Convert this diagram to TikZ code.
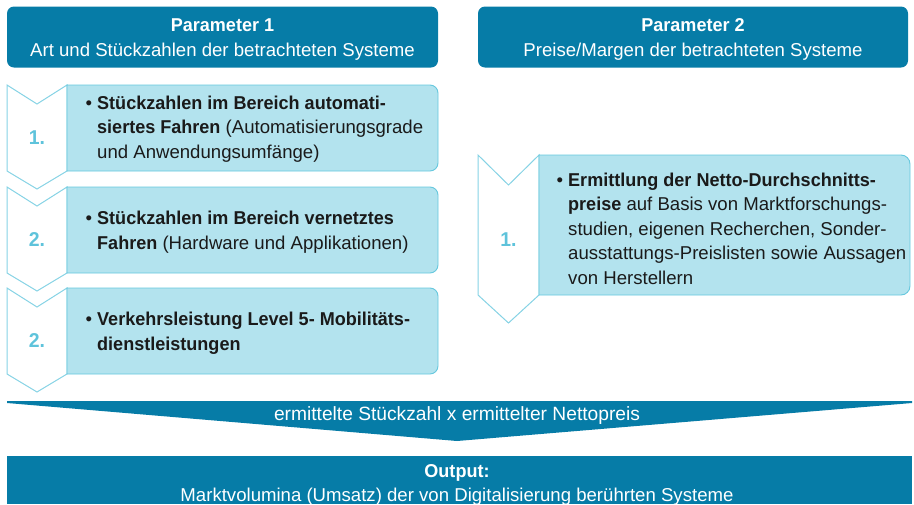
\documentclass[tikz,border=0pt]{standalone}
\usepackage{fontspec}
\setmainfont{Liberation Sans}[BoldFeatures={FakeStretch=0.97}]
\definecolor{dblue}{HTML}{067CA7}
\definecolor{lfill}{HTML}{B3E3EE}
\definecolor{lline}{HTML}{66C8DE}
\definecolor{chev}{HTML}{86D3E5}
\definecolor{numc}{HTML}{5EC3DB}
\definecolor{txt}{HTML}{1A1A1A}
\begin{document}
\begin{tikzpicture}[x=1pt,y=-1pt,
  every node/.style={font=\fontsize{18.6}{24.5}\selectfont, inner sep=0pt},
  hdr/.style={fill=dblue, rounded corners=7pt, minimum height=61pt},
  wtext/.style={text=white, align=center},
  chevron/.style={draw=chev, line width=1pt, fill=white, line join=miter},
  stepbox/.style={draw=lline, line width=0.9pt, fill=lfill},
  body/.style={anchor=west, align=left, text=txt},
  num/.style={text=numc, font=\fontsize{20}{24}\selectfont\bfseries},
  bigarrow/.style={fill=dblue},
  outbox/.style={fill=dblue}
]
\useasboundingbox (0,0) rectangle (914,504);

% headers
\node[hdr, minimum width=431pt] (h1) at (222.5,37) {};
\node[wtext] (h1t) at (222.5,39.5) {\textbf{Parameter 1}\\Art und Stückzahlen der betrachteten Systeme};
\node[hdr, minimum width=430pt] (h2) at (693,37) {};
\node[wtext] (h2t) at (693,39.5) {\textbf{Parameter 2}\\Preise/Margen der betrachteten Systeme};

% left steps
\foreach \t/\b/\n/\nm in {85/171/1./s1, 187/273/2./s2, 288/374/2./s3}{
  \draw[chevron] (7,\t) -- (37,\t+19) -- (67,\t) -- (67,\b) -- (37,\b+18) -- (7,\b) -- cycle;
  \draw[stepbox] (67,\t) -- (420,\t) [rounded corners=8pt] -- (438,\t) -- (438,\b) -- (420,\b) [sharp corners] -- (67,\b) -- cycle;
  \node[num] (n\nm) at (37,{(\t+\b)/2+10}) {\n};
}
\node[body] (t1) at (97,129) {\llap{\textbullet\ }\textbf{Stückzahlen im Bereich automati-}\\\textbf{siertes Fahren} (Automatisierungsgrade\\und Anwendungsumfänge)};
\node[body] (t2) at (97,232) {\llap{\textbullet\ }\textbf{Stückzahlen im Bereich vernetztes}\\\textbf{Fahren} (Hardware und Applikationen)};
\node[body] (t3) at (97,333) {\llap{\textbullet\ }\textbf{Verkehrsleistung Level 5- Mobilitäts-}\\\textbf{dienstleistungen}};

% right step
\draw[chevron] (478,155) -- (508.5,185) -- (539,155) -- (539,295) -- (508.5,323) -- (478,295) -- cycle;
\draw[stepbox] (539,155) -- (890,155) [rounded corners=9pt] -- (910,155) -- (910,295) -- (890,295) [sharp corners] -- (539,295) -- cycle;
\node[num] (nr1) at (508.5,240) {1.};
\node[body] (tr) at (568,228.5) {\llap{\textbullet\ }\textbf{Ermittlung der Netto-Durchschnitts-}\\\textbf{preise} auf Basis von Marktforschungs-\\studien, eigenen Recherchen, Sonder-\\ausstattungs-Preislisten sowie Aussagen\\von Herstellern};

% big arrow
\fill[bigarrow] (7,401) -- (912,401) -- (912,403) -- (457,441) -- (7,403) -- cycle;
\node[text=white, font=\fontsize{19.2}{24}\selectfont] (calc) at (457,416) {ermittelte Stückzahl x ermittelter Nettopreis};

% output
\fill[outbox] (7,456) rectangle (912,504);
\node[wtext] (out) at (457,485) {\textbf{Output:}\\Marktvolumina (Umsatz) der von Digitalisierung berührten Systeme};
\end{tikzpicture}
\end{document}
